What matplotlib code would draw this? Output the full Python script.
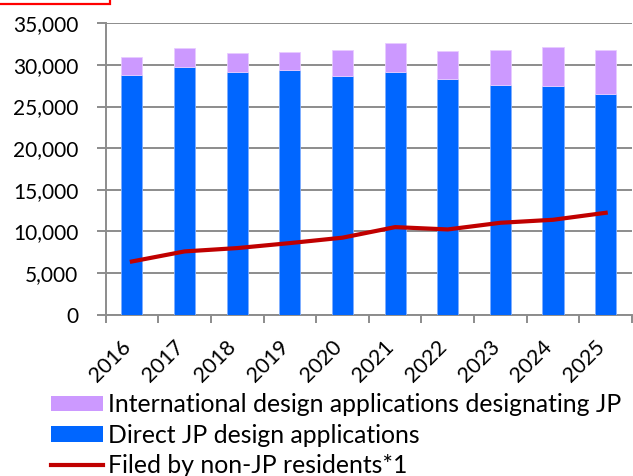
import matplotlib
matplotlib.use("Agg")
import matplotlib.pyplot as plt
import matplotlib.transforms as mtransforms
import numpy as np
from matplotlib.patches import Patch, Rectangle
from matplotlib.lines import Line2D
from matplotlib.ticker import FuncFormatter

years = ["2016", "2017", "2018", "2019", "2020", "2021", "2022", "2023", "2024", "2025"]
direct_jp = [28780, 29730, 29100, 29380, 28690, 29170, 28290, 27570, 27490, 26490]
international = [2120, 2250, 2320, 2120, 3080, 3410, 3400, 4170, 4610, 5280]
non_jp_residents = [6390, 7600, 8000, 8600, 9250, 10520, 10240, 11040, 11400, 12240]

plt.rcParams["font.family"] = ["Lato", "DejaVu Sans"]
FS = 15
LEG_FS = 17.8

fig = plt.figure(figsize=(6.33, 4.76), dpi=100)
ax = fig.add_axes([0.1668, 0.3389, 0.8316, 0.6121])

x = np.arange(len(years))
ax.bar(x, direct_jp, width=0.4, color="#0066FF", edgecolor="#7FAEFF", linewidth=0.6, zorder=3)
ax.bar(x, international, width=0.4, bottom=direct_jp, color="#CC99FF",
       edgecolor="#E8CCFF", linewidth=0.6, zorder=3)
ax.plot(x, non_jp_residents, color="#C00000", linewidth=3, zorder=4)

ax.set_xlim(-0.5, len(years) - 0.5)
ax.set_ylim(0, 35000)
ax.set_yticks(np.arange(0, 35001, 5000))
ax.yaxis.set_major_formatter(FuncFormatter(lambda v, p: f"{int(v):,}"))
ax.grid(axis="y", color="#8C8C8C", linewidth=1.4, zorder=0)

# tick marks between categories, labels at category centres
ax.set_xticks(np.arange(-0.5, len(years)), minor=False)
ax.set_xticklabels([])
ax.set_xticks(x, minor=True)
ax.set_xticklabels(years, minor=True, rotation=45, rotation_mode="anchor",
                   ha="right", va="center", fontsize=FS + 0.4)
ax.tick_params(axis="x", which="minor", length=0, pad=21)
ax.tick_params(axis="x", which="major", length=5.8, width=1.4, color="#8C8C8C")
ax.tick_params(axis="y", length=6.5, width=1.4, color="#8C8C8C", labelsize=FS, pad=13)

shift = mtransforms.ScaledTranslation(-4 / 100, 0, fig.dpi_scale_trans)
for lab in ax.get_xticklabels(minor=True):
    lab.set_transform(lab.get_transform() + shift)

for s in ["top", "right"]:
    ax.spines[s].set_visible(False)
for s in ["left", "bottom"]:
    ax.spines[s].set_color("#8C8C8C")
    ax.spines[s].set_linewidth(1.4)

handles = [
    Patch(facecolor="#CC99FF", edgecolor="none"),
    Patch(facecolor="#0066FF", edgecolor="none"),
    Line2D([], [], color="#C00000", linewidth=3),
]
labels = ["International design applications designating JP",
          "Direct JP design applications",
          "Filed by non-JP residents*1"]
fig.legend(handles, labels, loc="upper left", bbox_to_anchor=(0.0806, 0.174),
           frameon=False, fontsize=LEG_FS, handlelength=2.1, handleheight=0.61,
           handletextpad=0.2, labelspacing=0.3, borderpad=0, borderaxespad=0)

# cut-off red frame at top left
fig.add_artist(Rectangle((-0.01, 1 - 3.5 / 476), 110 / 633 + 0.01, 0.1,
                         transform=fig.transFigure, fill=False,
                         edgecolor="#FF0000", linewidth=1.6))

fig.savefig("out.png", dpi=100)
